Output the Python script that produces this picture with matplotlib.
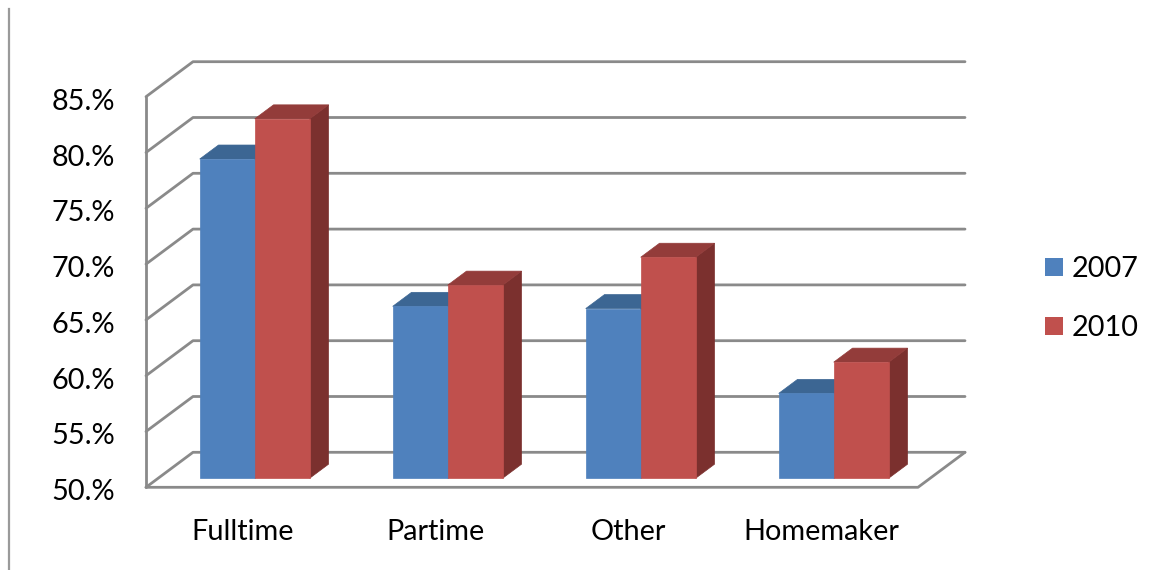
import numpy as np
import matplotlib
matplotlib.use("Agg")
import matplotlib.pyplot as plt
from matplotlib.patches import Polygon, Rectangle
from matplotlib.transforms import offset_copy

plt.rcParams['font.family'] = ['Lato', 'DejaVu Sans']

categories = ['Fulltime', 'Partime', 'Other', 'Homemaker']
years = ['2007', '2010']
vals_2007 = [78.6, 65.4, 65.2, 57.6]
vals_2010 = [82.2, 67.3, 69.8, 60.4]
yticks = [50, 55, 60, 65, 70, 75, 80, 85]

# face colours: front, top, side
colors = {
    '2007': ('#4F81BD', '#3C6693', '#345684'),
    '2010': ('#C0504D', '#933C3A', '#7B302E'),
}

W, H = 1164, 570
FS = 20.8
fig = plt.figure(figsize=(W / 100, H / 100), dpi=100)
ax = fig.add_axes([0, 0, 1, 1])
ax.set_axis_off()

# plot box: x in category units, y in percent
px_x0, px_cat = 146.0, 193.0      # pixel of x=0, pixels per category
px_y50, px_pct = 487.3, 11.16     # pixel (from top) of 50%, pixels per percent
ax.set_xlim(-px_x0 / px_cat, (W - px_x0) / px_cat)
ax.set_ylim(50 - (H - px_y50) / px_pct, 50 + px_y50 / px_pct)

# oblique depth offset for the full floor depth
DX = 47.0 / px_cat
DY = 35.0 / px_pct
ymin, ymax = yticks[0], yticks[-1]
ncat = len(categories)

def proj(x, v, f):
    return (x + f * DX, v + f * DY)

grid_kw = dict(color='#8a8a8a', lw=2.0, solid_capstyle='round', zorder=1)

# side-wall diagonals and back-wall gridlines
for v in yticks:
    p0 = proj(0, v, 0)
    p1 = proj(0, v, 1)
    p2 = proj(ncat, v, 1)
    ax.plot([p0[0], p1[0], p2[0]], [p0[1], p1[1], p2[1]], **grid_kw)

# front vertical axis
ax.plot([0, 0], [ymin, ymax], **grid_kw)
# floor front and right edges
f_r0 = proj(ncat, ymin, 0)
f_r1 = proj(ncat, ymin, 1)
ax.plot([0, f_r0[0], f_r1[0]], [ymin, f_r0[1], f_r1[1]], **grid_kw)

# 3D bars
bar_w = 0.285
f0, f1 = 0.26, 0.66

def draw_bar(x, v, cfront, ctop, cside):
    front = [proj(x, ymin, f0), proj(x + bar_w, ymin, f0),
             proj(x + bar_w, v, f0), proj(x, v, f0)]
    top = [proj(x, v, f0), proj(x + bar_w, v, f0),
           proj(x + bar_w, v, f1), proj(x, v, f1)]
    side = [proj(x + bar_w, ymin, f0), proj(x + bar_w, ymin, f1),
            proj(x + bar_w, v, f1), proj(x + bar_w, v, f0)]
    for pts, c in ((side, cside), (top, ctop), (front, cfront)):
        ax.add_patch(Polygon(pts, closed=True, facecolor=c,
                             edgecolor=c, lw=0.5, zorder=3))

for i in range(ncat):
    center = i + 0.5
    draw_bar(center - bar_w, vals_2007[i], *colors['2007'])
    draw_bar(center, vals_2010[i], *colors['2010'])

# tick labels on the front axis
tick_tr = offset_copy(ax.transData, fig=fig, x=-31, y=-13, units='dots')
for v in yticks:
    ax.text(0, v, f'{v}.%', transform=tick_tr, ha='right', va='baseline',
            fontsize=FS, color='black')

# category labels
cat_tr = offset_copy(ax.transData, fig=fig, x=0, y=-53, units='dots')
for i, name in enumerate(categories):
    ax.text(i + 0.5, ymin, name, transform=cat_tr, ha='center',
            va='baseline', fontsize=FS, color='black')

# legend
leg_top = [258, 317]
for yr, top in zip(years, leg_top):
    fig.patches.append(Rectangle((1045 / W, 1 - (top + 18) / H), 18 / W, 18 / H,
                                 transform=fig.transFigure,
                                 facecolor=colors[yr][0], edgecolor='none'))
    fig.text(1072 / W, 1 - (top + 18.5) / H, yr, ha='left', va='baseline',
             fontsize=FS, color='black')

# left border line
fig.add_artist(plt.Line2D([8.5 / W, 8.5 / W], [0, 1 - 9 / H],
                          transform=fig.transFigure, color='#9a9a9a', lw=1.6))

fig.savefig('out.png', dpi=100, facecolor='white')
